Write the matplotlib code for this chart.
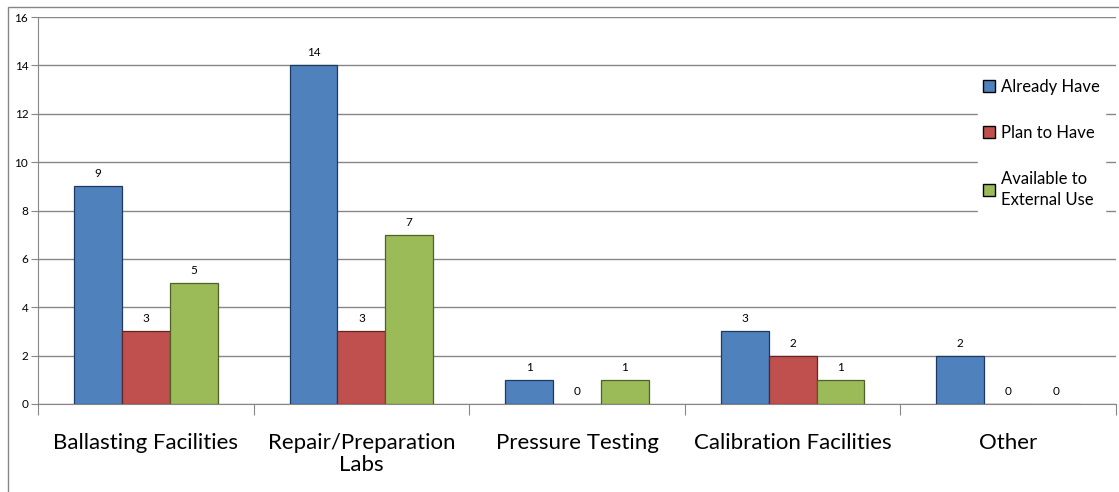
import matplotlib.pyplot as plt
import matplotlib.patches as mpatches
import numpy as np

plt.rcParams['font.family'] = ['Lato', 'DejaVu Sans']

categories = ['Ballasting Facilities', 'Repair/Preparation\nLabs', 'Pressure Testing',
              'Calibration Facilities', 'Other']
series_names = ['Already Have', 'Plan to Have', 'Available to\nExternal Use']
already_have = [9, 14, 1, 3, 2]
plan_to_have = [3, 3, 0, 2, 0]
available_external = [5, 7, 1, 1, 0]
colors = ['#4F81BD', '#C0504D', '#9BBB59']
edges = ['#1F3A60', '#632523', '#4E6128']

fig = plt.figure(figsize=(11.19, 4.92), dpi=100)
ax = fig.add_axes([38 / 1119, 1 - 404 / 492, (1116 - 38) / 1119, (404 - 17) / 492])

# outer chart border
fig.patches.append(mpatches.Rectangle((8 / 1119, -0.5), 2, 1 - 7 / 492 + 0.5,
                                      transform=fig.transFigure, fill=False,
                                      edgecolor='#868686', lw=1))

x = np.arange(len(categories))
w = 0.222
values = [already_have, plan_to_have, available_external]
for i, (vals, name) in enumerate(zip(values, series_names)):
    bars = ax.bar(x + (i - 1) * w, vals, w, color=colors[i], edgecolor=edges[i],
                  linewidth=0.9, label=name, zorder=3)
    for b, v in zip(bars, vals):
        ax.annotate(str(v), (b.get_x() + b.get_width() / 2, v), xytext=(0, 5),
                    textcoords='offset points', ha='center', va='bottom', fontsize=8.5)

ax.set_xlim(-0.5, len(categories) - 0.5)
ax.set_ylim(0, 16)
ax.set_yticks(range(0, 17, 2))
ax.tick_params(axis='y', labelsize=8.5, length=5, color='#868686', pad=2)
ax.set_xticks(np.arange(-0.5, len(categories), 1))
ax.set_xticklabels([])
ax.set_xticks(x, minor=True)
ax.set_xticklabels(categories, minor=True, fontsize=16, va='top', linespacing=1.1)
ax.tick_params(axis='x', which='major', length=8, color='#868686')
ax.tick_params(axis='x', which='minor', length=0, pad=21)
ax.grid(axis='y', color='#868686', lw=1, zorder=0)
for s in ['top', 'right']:
    ax.spines[s].set_visible(False)
for s in ['left', 'bottom']:
    ax.spines[s].set_color('#868686')

leg = ax.legend(loc='upper left', bbox_to_anchor=(978 / 1119, 1 - 74 / 492),
                bbox_transform=fig.transFigure, fontsize=12, frameon=True,
                facecolor='white', edgecolor='white', framealpha=1, fancybox=False,
                labelspacing=1.8, handlelength=0.7, handleheight=0.7,
                handletextpad=0.4, borderpad=0.3, borderaxespad=0)
for t in leg.get_texts():
    t.set_linespacing(1.4)
for h in leg.legend_handles:
    h.set_edgecolor('black')
    h.set_linewidth(1)
leg.set_zorder(5)

# white strip so the gridlines stop where the legend area begins, as in the reference
ax.add_patch(mpatches.Rectangle((970 / 1119, 1 - 220 / 492), 1, (220 - 74) / 492,
                                transform=fig.transFigure, facecolor='white',
                                edgecolor='none', zorder=1))

fig.savefig('out.png', dpi=100)
